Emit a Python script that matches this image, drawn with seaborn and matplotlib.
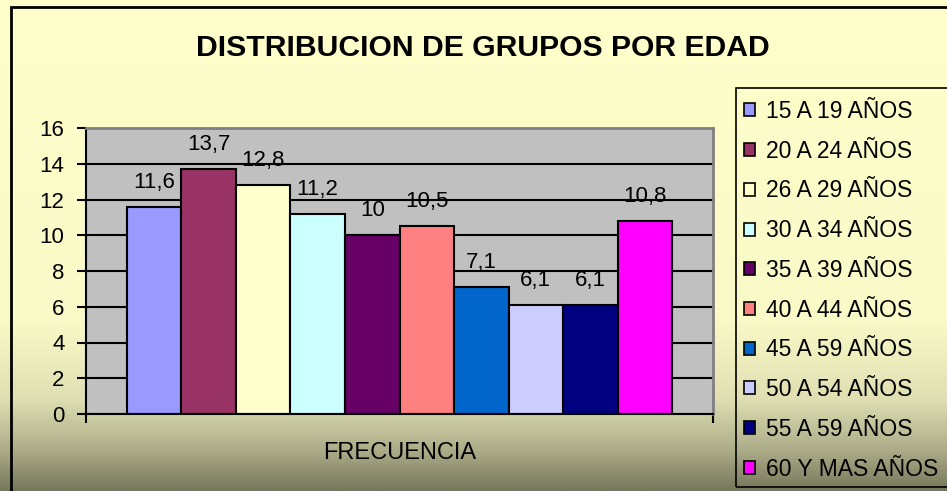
"""
Distribucion de grupos por edad - grafico de barras estilo Excel
"""

import numpy as np
import pandas as pd
import matplotlib
matplotlib.use("Agg")
import matplotlib.pyplot as plt
from matplotlib.patches import Patch, Rectangle
from matplotlib.lines import Line2D
import seaborn as sns

# -----------------------------
# Datos
# -----------------------------
categoria = "FRECUENCIA"
grupos = ["15 A 19 AÑOS", "20 A 24 AÑOS", "26 A 29 AÑOS", "30 A 34 AÑOS",
          "35 A 39 AÑOS", "40 A 44 AÑOS", "45 A 59 AÑOS", "50 A 54 AÑOS",
          "55 A 59 AÑOS", "60 Y MAS AÑOS"]
valores = [11.6, 13.7, 12.8, 11.2, 10, 10.5, 7.1, 6.1, 6.1, 10.8]
colores = ["#9999FF", "#993366", "#FFFFCC", "#CCFFFF", "#660066",
           "#FF8080", "#0066CC", "#CCCCFF", "#000080", "#FF00FF"]
y_ticks = [0, 2, 4, 6, 8, 10, 12, 14, 16]

df = pd.DataFrame({"categoria": [categoria] * len(grupos),
                   "grupo": grupos,
                   "valor": valores})

# -----------------------------
# Estilo
# -----------------------------
sns.set_theme(style="white")
plt.rcParams["font.family"] = ["Liberation Sans", "DejaVu Sans"]
plt.rcParams["text.color"] = "black"

W, H = 947, 491
fig = plt.figure(figsize=(W / 100, H / 100), dpi=100)

# fondo degradado (amarillo claro -> oliva)
bg = fig.add_axes([0, 0, 1, 1], zorder=-10)
ys = np.arange(H)
stops_y = [0, 320, 400, 450, H - 1]
stops_c = np.array([[255, 255, 204], [250, 250, 200], [222, 222, 178],
                    [172, 172, 136], [118, 118, 92]]) / 255
grad = np.stack([np.interp(ys, stops_y, stops_c[:, k]) for k in range(3)], axis=-1)
bg.imshow(grad[:, None, :], aspect="auto", extent=[0, 1, 0, 1])
bg.axis("off")

# area de trazado
left, right = 86 / W, 713 / W
bottom, top = 1 - 414 / H, 1 - 128 / H
ax = fig.add_axes([left, bottom, right - left, top - bottom])
ax.set_facecolor("#C0C0C0")

sns.barplot(data=df, x="categoria", y="valor", hue="grupo", hue_order=grupos,
            palette=colores, saturation=1, width=0.87, edgecolor="black",
            linewidth=1.5, ax=ax, legend=False)

for cont, v in zip(ax.containers, valores):
    ax.bar_label(cont, labels=[f"{v:g}".replace(".", ",")], padding=10,
                 fontsize=16, color="black")

ax.set_xlim(-0.5, 0.5)
ax.set_ylim(0, 16)
ax.set_yticks(y_ticks)
ax.set_xlabel("")
ax.set_ylabel("")
ax.yaxis.grid(True, color="black", linewidth=1.5)
ax.set_axisbelow(True)

for s in ["top", "right"]:
    ax.spines[s].set_color("#808080")
    ax.spines[s].set_linewidth(2)
for s in ["left", "bottom"]:
    ax.spines[s].set_color("black")
    ax.spines[s].set_linewidth(1.5)

ax.tick_params(axis="y", length=6.5, width=1.5, color="black", direction="out",
               labelsize=16, labelcolor="black", pad=9, left=True)
ax.tick_params(axis="x", which="major", length=0, labelsize=17,
               labelcolor="black", pad=20)
ax.set_xticks([-0.5, 0.5], minor=True)
ax.tick_params(axis="x", which="minor", length=6.5, width=1.5, color="black",
               direction="out", bottom=True)

# titulo
fig.text(483 / W, 1 - 48 / H, "DISTRIBUCION DE GRUPOS POR EDAD",
         ha="center", va="center", fontsize=21.7, fontweight="bold",
         color="black")

# leyenda
handles = [Patch(facecolor=c, edgecolor="black", linewidth=1.2, label=g)
           for g, c in zip(grupos, colores)]
fig.legend(handles=handles, loc="upper left",
           bbox_to_anchor=(744 / W, 1 - 100 / H), frameon=False,
           fontsize=16.5, handlelength=0.5, handleheight=0.5,
           handletextpad=0.45, labelspacing=0.73, borderpad=0,
           borderaxespad=0)
fig.add_artist(Rectangle((736 / W, 1 - 487 / H), 0.5, (487 - 88) / H,
                         transform=fig.transFigure, fill=False,
                         edgecolor="black", linewidth=1.2))

# borde exterior del grafico (izquierda y arriba)
fig.add_artist(Line2D([11 / W, 11 / W, 1.0], [0.0, 1 - 7 / H, 1 - 7 / H],
                      transform=fig.transFigure, color="black", linewidth=2,
                      solid_joinstyle="miter"))

plt.savefig("out.png", dpi=100)
